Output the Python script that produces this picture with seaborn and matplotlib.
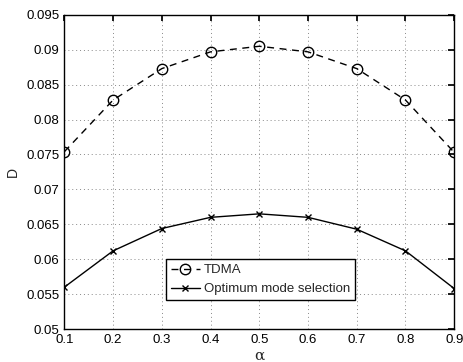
import numpy as np
import pandas as pd
import seaborn as sns
import matplotlib
matplotlib.use("Agg")
import matplotlib.pyplot as plt

# dane
alpha = [0.1, 0.2, 0.3, 0.4, 0.5, 0.6, 0.7, 0.8, 0.9]
tdma = [0.0754, 0.0828, 0.0873, 0.0897, 0.0905, 0.0897, 0.0873, 0.0828, 0.0753]
optimum = [0.0560, 0.0612, 0.0644, 0.0660, 0.0665, 0.0660, 0.0643, 0.0612, 0.0558]

x_ticks = [0.1, 0.2, 0.3, 0.4, 0.5, 0.6, 0.7, 0.8, 0.9]
y_ticks = [0.05, 0.055, 0.06, 0.065, 0.07, 0.075, 0.08, 0.085, 0.09, 0.095]
y_labels = ["0.05", "0.055", "0.06", "0.065", "0.07", "0.075", "0.08", "0.085", "0.09", "0.095"]

sns.set_theme(style="white")
plt.rcParams["font.family"] = ["Liberation Sans", "DejaVu Sans"]

df = pd.DataFrame({"alpha": alpha, "TDMA": tdma, "Optimum mode selection": optimum})

fig = plt.figure(figsize=(4.63, 3.62), dpi=100)
ax = fig.add_axes([0.139, 0.091, 0.842, 0.868])

sns.lineplot(data=df, x="alpha", y="TDMA", ax=ax, color="black", linestyle=(0, (5, 4)),
             marker="o", markersize=7.5, markerfacecolor="none", markeredgecolor="black",
             markeredgewidth=1.0, linewidth=1.0, label="TDMA")
sns.lineplot(data=df, x="alpha", y="Optimum mode selection", ax=ax, color="black",
             marker="x", markersize=5, markeredgecolor="black", markeredgewidth=1.0,
             linewidth=1.0, label="Optimum mode selection")

ax.set_xlim(0.1, 0.9)
ax.set_ylim(0.05, 0.095)
ax.set_xticks(x_ticks)
ax.set_xticklabels([str(t) for t in x_ticks])
ax.set_yticks(y_ticks)
ax.set_yticklabels(y_labels)
ax.tick_params(direction="in", length=4, labelsize=9.5, colors="black", top=True, right=True)
ax.grid(True, linestyle=(0, (1, 3)), color="#888888", linewidth=0.7)
for s in ax.spines.values():
    s.set_color("black")
    s.set_linewidth(1.0)

ax.set_xlabel("α", fontsize=11, family="DejaVu Serif", labelpad=2)
ax.set_ylabel("D", fontsize=10, labelpad=5)

leg = ax.legend(loc="lower left", bbox_to_anchor=(0.243, 0.07), fancybox=False,
                edgecolor="black", framealpha=1, fontsize=9.5, handlelength=2.2,
                borderpad=0.4, labelspacing=0.5, handletextpad=0.3)
leg.get_frame().set_linewidth(1.0)

plt.savefig("out.png", dpi=100)
